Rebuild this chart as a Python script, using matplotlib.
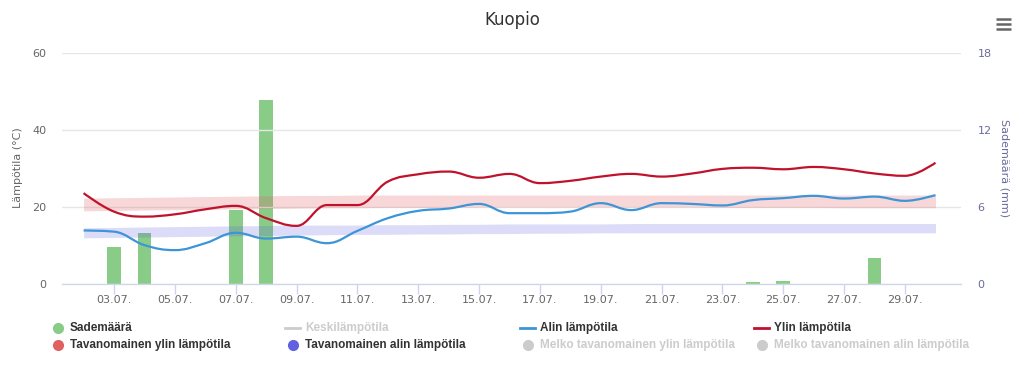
import matplotlib
matplotlib.use("Agg")
import matplotlib.pyplot as plt
from matplotlib.path import Path
from matplotlib.patches import PathPatch
from matplotlib.lines import Line2D

# days of July
days = list(range(2, 31))

# daily max / min temperature (°C)
t_max = [23.6, 18.8, 17.5, 18.1, 19.4, 20.3, 17.1, 15.1, 20.5, 20.5,
         26.6, 28.5, 29.2, 27.6, 28.6, 26.2, 26.8, 27.9, 28.6, 27.9,
         28.7, 29.9, 30.2, 29.8, 30.4, 29.8, 28.7, 28.1, 31.5]
t_min = [13.9, 13.6, 10.1, 8.8, 10.6, 13.3, 11.8, 12.3, 10.6, 13.8,
         17.1, 19.0, 19.6, 20.8, 18.4, 18.4, 18.8, 21.0, 19.2, 21.0,
         20.8, 20.4, 21.8, 22.3, 22.9, 22.2, 22.7, 21.6, 23.1]

# normal ranges (°C)
norm_max_lo = [19.0, 19.1, 19.2, 19.3, 19.4, 19.5, 19.6, 19.7, 19.8, 19.8,
               19.9, 19.9, 19.9, 20.0, 20.0, 20.0, 20.0, 20.0, 20.0, 20.0,
               20.0, 19.9, 19.9, 19.9, 19.9, 19.8, 19.8, 19.8, 19.8]
norm_max_hi = [22.3, 22.4, 22.5, 22.6, 22.7, 22.8, 22.9, 23.0, 23.0, 23.1,
               23.1, 23.1, 23.1, 23.1, 23.1, 23.1, 23.1, 23.1, 23.1, 23.1,
               23.1, 23.1, 23.1, 23.1, 23.1, 23.1, 23.1, 23.1, 23.1]
norm_min_lo = [12.0, 12.1, 12.2, 12.3, 12.4, 12.5, 12.6, 12.7, 12.8, 12.9,
               12.9, 13.0, 13.0, 13.1, 13.1, 13.2, 13.2, 13.3, 13.3, 13.3,
               13.3, 13.3, 13.3, 13.3, 13.3, 13.3, 13.3, 13.3, 13.3]
norm_min_hi = [14.6, 14.7, 14.8, 14.9, 15.0, 15.1, 15.2, 15.3, 15.3, 15.3,
               15.4, 15.4, 15.5, 15.5, 15.6, 15.6, 15.6, 15.6, 15.7, 15.7,
               15.7, 15.7, 15.7, 15.7, 15.7, 15.7, 15.7, 15.7, 15.7]

# precipitation (mm)
rain_days = [3, 4, 7, 8, 24, 25, 28]
rain_mm = [2.9, 4.0, 5.8, 14.3, 0.15, 0.2, 2.0]

tick_days = list(range(3, 30, 2))
tick_labels = ["%02d.07." % d for d in tick_days]


def spline_path(xs, ys):
    # highcharts-like spline smoothing
    n = len(xs)
    lc, rc = [None] * n, [None] * n
    for i in range(n):
        x, y = xs[i], ys[i]
        if i == 0 or i == n - 1:
            lc[i] = rc[i] = (x, y)
            continue
        px, py = xs[i - 1], ys[i - 1]
        nx, ny = xs[i + 1], ys[i + 1]
        lx, ly = (1.5 * x + px) / 2.5, (1.5 * y + py) / 2.5
        rx, ry = (1.5 * x + nx) / 2.5, (1.5 * y + ny) / 2.5
        corr = ((ry - ly) * (rx - x)) / (rx - lx) + y - ry
        ly += corr
        ry += corr
        if ly > py and ly > y:
            ly = max(py, y); ry = 2 * y - ly
        elif ly < py and ly < y:
            ly = min(py, y); ry = 2 * y - ly
        if ry > ny and ry > y:
            ry = max(ny, y); ly = 2 * y - ry
        elif ry < ny and ry < y:
            ry = min(ny, y); ly = 2 * y - ry
        lc[i], rc[i] = (lx, ly), (rx, ry)
    verts = [(xs[0], ys[0])]
    codes = [Path.MOVETO]
    for i in range(1, n):
        verts += [rc[i - 1], lc[i], (xs[i], ys[i])]
        codes += [Path.CURVE4] * 3
    return Path(verts, codes)


fig = plt.figure(figsize=(10.24, 3.71), dpi=100)
ax = fig.add_axes([62 / 1024, 1 - 284 / 371, 899 / 1024, 231 / 371])
ax2 = ax.twinx()

# rain bars on the right axis, drawn beneath
ax2.bar(rain_days, rain_mm, width=0.45, color="#88cc88", zorder=1)
ax2.set_ylim(0, 18)
ax2.set_yticks([0, 6, 12, 18])
ax.set_zorder(ax2.get_zorder() + 1)
ax.patch.set_visible(False)

ax.fill_between(days, norm_max_lo, norm_max_hi, color="#e06060", alpha=0.25, lw=0, zorder=2)
ax.fill_between(days, norm_min_lo, norm_min_hi, color="#6060e0", alpha=0.22, lw=0, zorder=2)

ax.add_patch(PathPatch(spline_path(days, t_min), fill=False, ec="#3d95d8", lw=1.6, zorder=3))
ax.add_patch(PathPatch(spline_path(days, t_max), fill=False, ec="#c0122c", lw=1.6, zorder=4))

ax.set_xlim(1.29, 30.84)
ax.set_ylim(0, 60)
ax.set_yticks([0, 20, 40, 60])
ax.set_xticks(tick_days)
ax.set_xticklabels(tick_labels)
ax.grid(axis="y", color="#e6e6e6", lw=1)
ax.set_axisbelow(True)

for a in (ax, ax2):
    for s in ("top", "left", "right"):
        a.spines[s].set_visible(False)
    a.spines["bottom"].set_color("#ccd6eb")
ax.tick_params(axis="x", colors="#ccd6eb", length=7, width=1, labelcolor="#666666", labelsize=8, pad=1)
ax.tick_params(axis="y", length=0, labelcolor="#666666", labelsize=8, pad=11)
ax2.tick_params(axis="y", length=0, labelcolor="#6b6b9e", labelsize=8, pad=12)

fig.text(18 / 1024, 1 - 168 / 371, "Lämpötila (°C)", rotation=90, ha="center", va="center",
         fontsize=8, color="#666666")
fig.text(1005 / 1024, 1 - 168 / 371, "Sademäärä (mm)", rotation=270, ha="center", va="center",
         fontsize=8, color="#6b6b9e")
fig.text(0.5, 1 - 20 / 371, "Kuopio", ha="center", va="center", fontsize=12, color="#333333")

# menu icon
for yy in (19, 24, 29):
    fig.add_artist(Line2D([996 / 1024, 1011 / 1024], [1 - yy / 371] * 2, color="#666666", lw=1.8,
                          solid_capstyle="butt"))

# legend, drawn by hand to keep highcharts spacing
legend_items = [
    ("Sademäärä", "dot", "#88cc88", "#333333", 70, 328),
    ("Keskilämpötila", "line", "#cccccc", "#cccccc", 305, 328),
    ("Alin lämpötila", "line", "#3d95d8", "#333333", 540, 328),
    ("Ylin lämpötila", "line", "#c0122c", "#333333", 774, 328),
    ("Tavanomainen ylin lämpötila", "dot", "#e06060", "#333333", 70, 345),
    ("Tavanomainen alin lämpötila", "dot", "#6060e0", "#333333", 305, 345),
    ("Melko tavanomainen ylin lämpötila", "dot", "#cccccc", "#cccccc", 540, 345),
    ("Melko tavanomainen alin lämpötila", "dot", "#cccccc", "#cccccc", 774, 345),
]
for label, kind, sym_color, txt_color, tx, ty in legend_items:
    fy = 1 - ty / 371
    if kind == "dot":
        fig.add_artist(Line2D([(tx - 12) / 1024], [fy], marker="o", ms=7, color=sym_color, lw=0))
    else:
        fig.add_artist(Line2D([(tx - 20) / 1024, (tx - 5) / 1024], [fy, fy], color=sym_color, lw=2))
    fig.text(tx / 1024, fy, label, ha="left", va="center", fontsize=8.5, fontweight="bold",
             color=txt_color, family="Liberation Sans")

fig.savefig("out.png", dpi=100)
